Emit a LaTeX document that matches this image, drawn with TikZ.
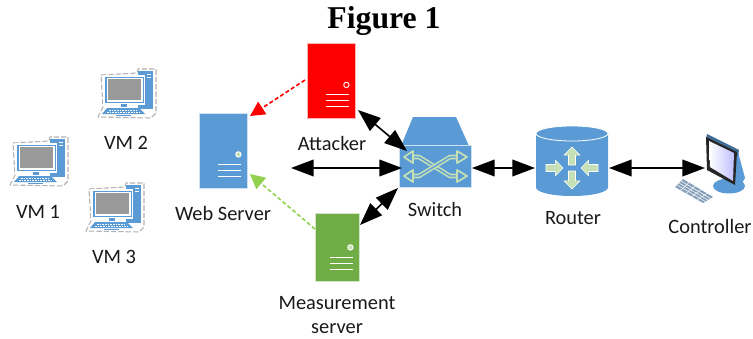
\documentclass[tikz,border=0pt]{standalone}
\usepackage{fontspec}
\setmainfont{Carlito}
\newfontfamily\titlefont{Liberation Serif}
\usetikzlibrary{arrows.meta,calc}
\definecolor{iconblue}{RGB}{91,155,213}
\definecolor{servgreen}{RGB}{112,173,71}
\definecolor{palegreen}{RGB}{197,224,180}
\definecolor{dashgreen}{RGB}{146,208,80}
\definecolor{keygray}{RGB}{135,160,185}
\tikzset{
	lbl/.style={font=\fontsize{15.3pt}{18.2pt}\selectfont,align=center,text=black!90},
	servbox/.style={draw=white!70!#1,fill=#1,line width=0.6pt,inner sep=0pt},
	link/.style={<->,line width=1.2pt},
	attack/.style={->,dashed,line width=1.2pt,dash pattern=on 3pt off 1.8pt,>={Stealth[length=11pt,width=11pt,inset=0pt]}},
	vmicon/.pic={
		\fill[white] (3,7)--(39,5)--(40,1)--(58,1)--(58,45)--(53,50)--(0,49)--(5,39)--cycle;
		\draw[gray!60,line width=0.8pt,dash pattern=on 4pt off 1.5pt] (3,7)--(39,5)--(40,1)--(58,1)--(58,45)--(53,50)--(0,49)--(5,39)--cycle;
		\fill[iconblue] (40,3) rectangle (55,41);
		\draw[white,line width=0.5pt] (49,6)--(53,6) (49,9)--(53,9);
		\fill[white] (5,7) rectangle (47,37);
		\fill[iconblue] (7,9) rectangle (46,35);
		\fill[white] (8.5,10) rectangle (44.5,33.5);
		\fill[gray!80] (10,11) rectangle (43,32);
		\fill[iconblue] (23,36) rectangle (29,38.5);
		\fill[iconblue] (9,40)--(41,40)--(47,46)--(4,46)--cycle;
		\draw[white,line width=0.6pt,dash pattern=on 1.2pt off 0.8pt] (11,42)--(39,42) (9,44)--(42,44);
		\draw[iconblue,line width=0.9pt] (18,47.5)--(33,47.5);
	},
}
\begin{document}
\begin{tikzpicture}[x=0.75pt,y=-0.75pt,line join=round,>={Stealth[length=17pt,width=12.5pt,inset=0pt]}]
	\useasboundingbox (0,0) rectangle (753,339);
	%Title.
	\node[font=\titlefont\bfseries\fontsize{23.8pt}{28pt}\selectfont] (title) at (384,21) {Figure 1};
	%Virtual machines.
	\pic at (10,136) {vmicon};
	\pic at (98,68) {vmicon};
	\pic at (86,182) {vmicon};
	\node[lbl] (vm1) at (38,212) {VM 1};
	\node[lbl] (vm2) at (126,143) {VM 2};
	\node[lbl] (vm3) at (114,257) {VM 3};
	%Servers.
	\node[servbox=iconblue,minimum width=36pt,minimum height=56.25pt] (web) at (223,150.5) {};
	\node[servbox=red,minimum width=36pt,minimum height=56.25pt] (attacker) at (331,81) {};
	\node[servbox=servgreen,minimum width=33pt,minimum height=51pt] (meter) at (337,247) {};
	\foreach \name/\col in {web/palegreen,attacker/red,meter/palegreen}{
		\draw[white,fill=\col,line width=0.7pt] ($(\name.south east)+(-9,-34)$) circle(2.7);
		\draw[white,line width=0.8pt] ($(\name.south east)+(-29,-24)$)--++(23,0) ($(\name.south east)+(-29,-18)$)--++(23,0) ($(\name.south east)+(-29,-12)$)--++(23,0);
	}
	\node[lbl] (weblbl) at (223,213) {Web Server};
	\node[lbl] (attackerlbl) at (332,143) {Attacker};
	\node[lbl] (meterlbl) at (337,315) {Measurement\\server};
	%Switch.
	\fill[iconblue] (401,146)--(413,117)--(456,117)--(469,146)--cycle;
	\node[draw=white!70!iconblue,fill=iconblue,line width=0.6pt,inner sep=0pt,minimum width=54pt,minimum height=31pt] (switch) at (435,166.5) {};
	\foreach \j in {157,176}{
		\pgfmathsetmacro{\k}{333-\j}
		\draw[palegreen,line width=3.4pt] (409,\j)--(419,\j)--(450,\k)--(462,\k);
		\draw[iconblue,line width=1pt] (410,\j)--(419,\j)--(450,\k)--(461,\k);
		\draw[palegreen,fill=iconblue,line width=1.3pt] (413,\j-6)--(404,\j)--(413,\j+6)--cycle;
		\draw[palegreen,fill=iconblue,line width=1.3pt] (457,\k-6)--(467,\k)--(457,\k+6)--cycle;
	}
	\node[lbl] (switchlbl) at (435,209) {Switch};
	%Router.
	\fill[iconblue] (536,133.5)--(536,187.5) arc[start angle=180,end angle=360,x radius=36,y radius=-8.5]--(608,133.5)--cycle;
	\draw[white,fill=iconblue,line width=0.6pt] (572,133.5) ellipse[x radius=36,y radius=7.5];
	\coordinate (routerc) at (572,168);
	\foreach \ang/\a/\b in {90/3/21,-90/3/21,0/26/9,180/26/9}{
		\begin{scope}[shift={(routerc)},rotate=\ang]
			\pgfmathsetmacro{\m}{\a+0.55*(\b-\a)}
			\draw[white,fill=palegreen,line width=0.4pt] (\a,-3.5)--(\m,-3.5)--(\m,-8)--(\b,0)--(\m,8)--(\m,3.5)--(\a,3.5)--cycle;
		\end{scope}
	}
	\node[lbl] (routerlbl) at (573,218) {Router};
	%Controller.
	\fill[iconblue] (729,186) ellipse[x radius=16,y radius=7.5];
	\fill[iconblue] (738,152)--(745,178)--(738,190)--(728,178)--cycle;
	\fill[iconblue!70!black] (707,134)--(739,150)--(738,156)--(706,139)--cycle;
	\fill[black!85] (706,137)--(737,152)--(735,185)--(707,170)--cycle;
	\shade[left color=white,right color=blue!25!white] (709,141)--(734,153)--(733,181)--(710,167)--cycle;
	\fill[keygray] (683,179)--(713,197)--(703,203)--(675,187)--cycle;
	\foreach \t in {0.2,0.4,0.6,0.8}{
		\draw[white,line width=0.4pt] ($(683,179)!\t!(713,197)$)--($(675,187)!\t!(703,203)$);
	}
	\foreach \t in {0.25,0.5,0.75}{
		\draw[white,line width=0.4pt] ($(683,179)!\t!(675,187)$)--($(713,197)!\t!(703,203)$);
	}
	\node[lbl] (controller) at (710,226) {Controller};
	%Links.
	\coordinate (a1) at (358,110);
	\coordinate (a2) at (407,151);
	\coordinate (b1) at (291,168);
	\coordinate (b2) at (402,168);
	\coordinate (c1) at (360,225);
	\coordinate (c2) at (398,188);
	\coordinate (d1) at (472,168);
	\coordinate (d2) at (535,168);
	\coordinate (e1) at (609,168);
	\coordinate (e2) at (705,168);
	\draw[link] (a1)--(a2);
	\draw[link] (b1)--(b2);
	\draw[link] (c1)--(c2);
	\draw[link] (d1)--(d2);
	\draw[link] (e1)--(e2);
	%Attack and measurement traffic.
	\coordinate (f1) at (305,80);
	\coordinate (f2) at (250,116);
	\coordinate (g1) at (315,229);
	\coordinate (g2) at (250,174);
	\draw[attack,red] (f1)--(f2);
	\draw[attack,dashgreen] (g1)--(g2);
\end{tikzpicture}
\end{document}
